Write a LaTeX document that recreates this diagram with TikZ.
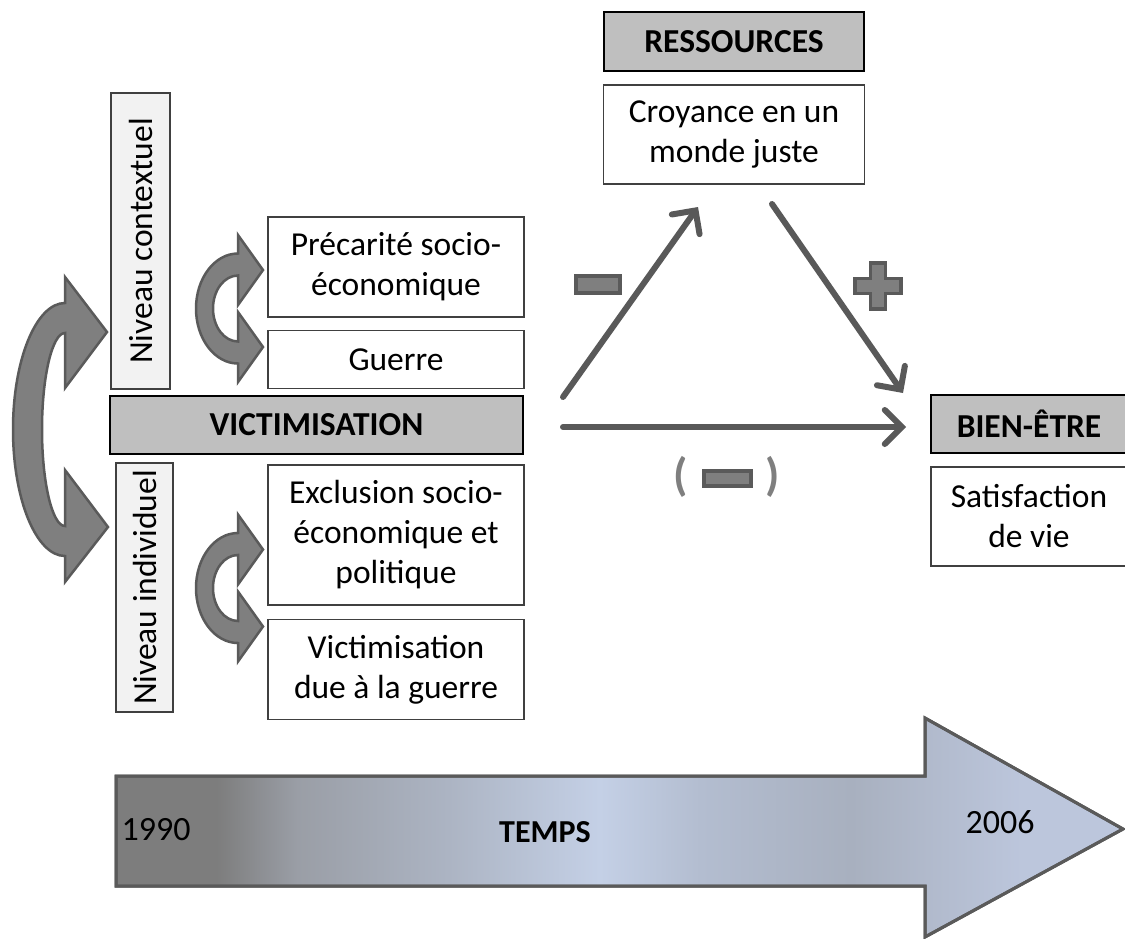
\documentclass[tikz,border=0pt]{standalone}
\usepackage{fontspec}
\setmainfont{Carlito}
\usepackage{tikz}
\usetikzlibrary{positioning,arrows.meta}

\definecolor{arrgray}{HTML}{7F7F7F}
\definecolor{arredge}{HTML}{5A5A5A}
\definecolor{linegray}{HTML}{595959}
\definecolor{headgray}{HTML}{BFBFBF}
\definecolor{levelgray}{HTML}{F2F2F2}
\definecolor{timea}{HTML}{7D7D7D}
\definecolor{timeb}{HTML}{9A9EA6}
\definecolor{timec}{HTML}{ACB4C3}
\definecolor{timed}{HTML}{C4D0E6}
\definecolor{timee}{HTML}{B3BDD0}
\definecolor{timef}{HTML}{A8B0BF}
\definecolor{timeg}{HTML}{BCC6DC}

\pgfdeclarehorizontalshading{timeshade}{100bp}{color(0bp)=(timea); color(30bp)=(timea); color(34bp)=(timeb);
	color(41.5bp)=(timec); color(49bp)=(timed); color(54bp)=(timee); color(61.5bp)=(timef); color(70bp)=(timeg); color(100bp)=(timeg)}

\tikzset{
	txt/.style={font=\fontsize{33.5}{40}\selectfont},
	box/.style={txt, draw=black!75, line width=1.5pt, fill=white, align=center, inner sep=0pt, minimum width=256pt},
	head/.style={box, fill=headgray, draw=black, line width=2.5pt, font=\fontsize{33.5}{40}\selectfont\bfseries},
	level/.style={box, fill=levelgray, rotate=90},
	link/.style={draw=linegray, line width=6pt, line cap=round, -{Straight Barb[length=17pt,width=34pt,line cap=round]}},
	sign/.style={fill=arrgray, draw=arredge, line width=3.5pt},
	loopfill/.style={fill=arrgray, draw=arredge, line width=2.5pt},
	paren/.style={text=arrgray, font=\fontsize{46}{46}\selectfont\bfseries, inner sep=0pt},
	timeline/.style={draw=arredge, line width=3pt, shading=timeshade},
	yeartxt/.style={font=\fontsize{34}{40}\selectfont},
	pics/loop/.style={code={
		\filldraw[loopfill] (0,-55) .. controls (-23.2,-55) and (-42,-30.4) .. (-42,0)
			.. controls (-42,30.4) and (-23.2,55) .. (0,55) -- (0,73.5) -- (25,38.5) -- (0,3.5) -- (0,33)
			.. controls (-13.8,33) and (-25,18.2) .. (-25,0) .. controls (-25,-18.2) and (-13.8,-33) .. (0,-33)
			-- (0,-3.5) -- (25,-38.5) -- (0,-73.5) -- cycle;
	}}
}

\begin{document}
\begin{tikzpicture}[x=1pt, y=-1pt]
	\useasboundingbox (0,0) rectangle (1125,938);

	\node[level, minimum width=296pt, minimum height=59pt] (ctx) at (140.5,241) {Niveau contextuel};
	\node[level, minimum width=249pt, minimum height=57pt] (ind) at (144.5,587.5) {Niveau individuel};
	\node[head, minimum width=413pt, minimum height=58pt] (victim) at (316.5,425) {VICTIMISATION};

	\node[box, minimum height=100pt] (prec) at (396,267) {Précarité socio-\\économique};
	\node[box, minimum height=58pt, below=12pt of prec] (guerre) {Guerre};
	\node[box, minimum height=140pt] (excl) at (396,535) {Exclusion socio-\\économique et\\politique};
	\node[box, minimum height=100pt, below=13pt of excl] (vicg) {Victimisation\\due à la guerre};

	\node[head, minimum width=260pt, minimum height=59pt] (ress) at (734,41.5) {RESSOURCES};
	\node[box, minimum width=261pt, minimum height=99pt, below=12pt of ress] (croy) {Croyance en un\\monde juste};

	\node[head, minimum width=196pt, minimum height=58pt] (bien) at (1029,424) {BIEN-ÊTRE};
	\node[box, minimum width=196pt, minimum height=99pt, below=12pt of bien] (satis) {Satisfaction\\de vie};

	\filldraw[loopfill] (65,303) .. controls (36.3,303) and (13,359.4) .. (13,429.5)
		.. controls (13,499.6) and (36.3,556) .. (65,556) -- (65,582) -- (108,527) -- (65,470) -- (65,526)
		.. controls (52.3,526) and (42,482.8) .. (42,429.5) .. controls (42,376.2) and (52.3,333) .. (65,333)
		-- (65,388) -- (107,332) -- (65,277) -- cycle;

	\pic at (238,308.5) {loop};
	\pic at (238,588) {loop};

	\coordinate (upstart) at (563,397);
	\coordinate (upend) at (698,207);
	\coordinate (downstart) at (772,204);
	\coordinate (downend) at (903,393);
	\coordinate (hstart) at (563,427);
	\coordinate (hend) at (906,427);

	\draw[link] (upstart) -- (upend);
	\draw[link] (downstart) -- (downend);
	\draw[link] (hstart) -- (hend);

	\filldraw[sign] (576,276) rectangle (620,293);
	\filldraw[sign] (870.5,263) -- (885.5,263) -- (885.5,278.5) -- (901,278.5) -- (901,293.5) -- (885.5,293.5)
		-- (885.5,309) -- (870.5,309) -- (870.5,293.5) -- (855,293.5) -- (855,278.5) -- (870.5,278.5) -- cycle;
	\filldraw[sign] (704,471) rectangle (751,486);
	\node[paren] (lpar) at (681,477) {(};
	\node[paren] (rpar) at (773,477) {)};

	\shade[timeline] (116,776) -- (925,776) -- (925,718) -- (1123,829) -- (925,937) -- (925,886) -- (116,886) -- cycle;
	\draw[draw=arredge, line width=3pt] (116,776) -- (925,776) -- (925,718) -- (1123,829) -- (925,937) -- (925,886) -- (116,886) -- cycle;
	\node[yeartxt] (start) at (156,830) {1990};
	\node[yeartxt, font=\fontsize{32}{40}\selectfont\bfseries] (temps) at (545,832) {TEMPS};
	\node[yeartxt] (end) at (1000,822) {2006};
\end{tikzpicture}
\end{document}
